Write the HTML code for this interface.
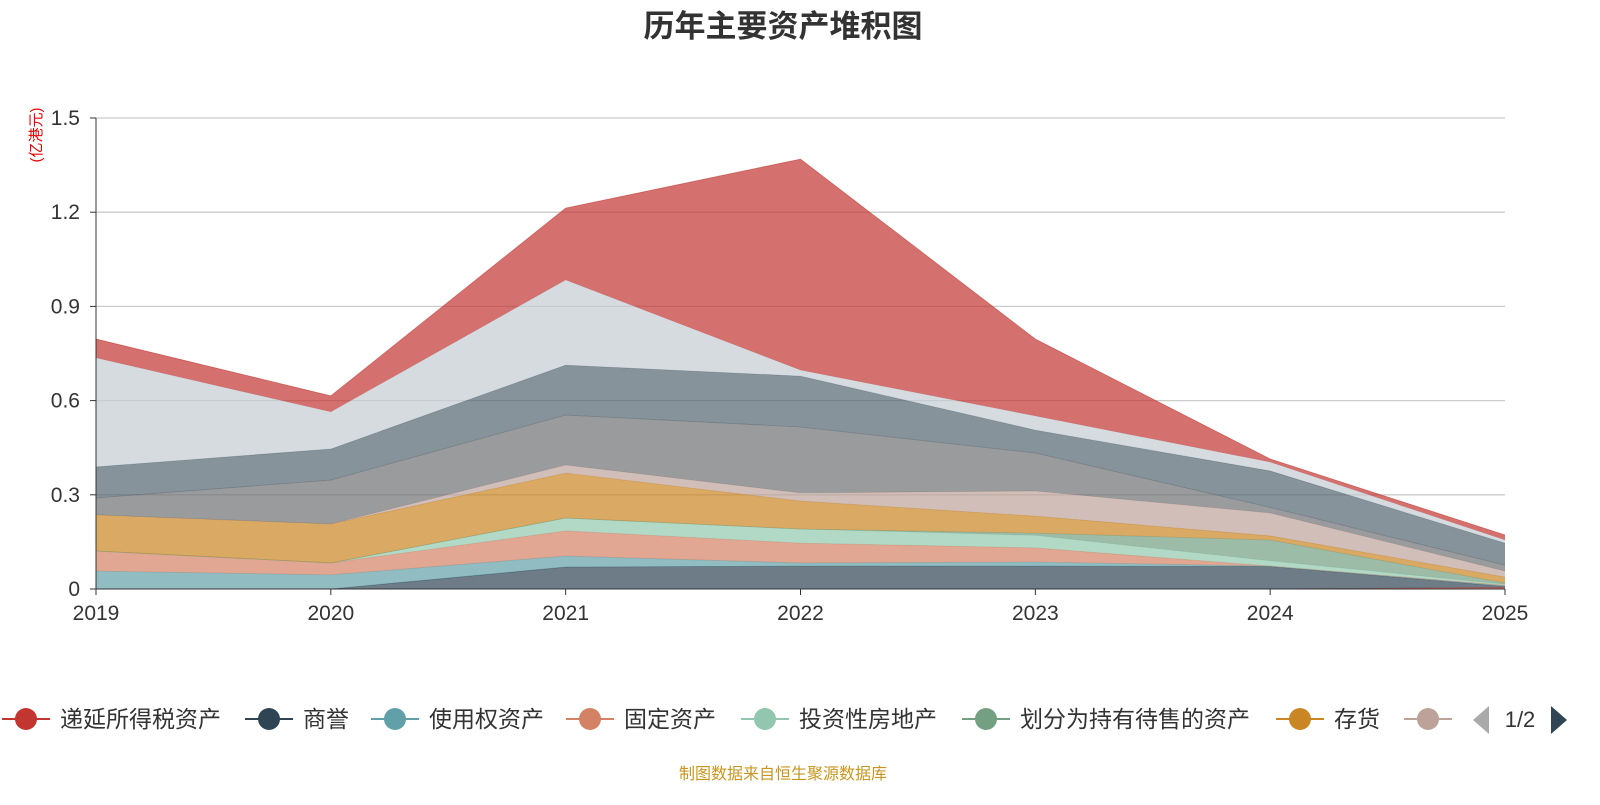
<!DOCTYPE html>
<html><head><meta charset="utf-8"><style>
body{margin:0;background:#fff;font-family:"Liberation Sans","Noto Sans CJK SC",sans-serif;}
svg text{font-family:"Liberation Sans","Noto Sans CJK SC",sans-serif;}
</style></head><body>
<svg id="c" width="1600" height="800">
<text x="783" y="37" text-anchor="middle" font-size="31" font-weight="bold" fill="#333">历年主要资产堆积图</text>
<text transform="translate(41,135) rotate(-90)" text-anchor="middle" font-size="15" fill="#e00">(亿港元)</text>
<g id="grid"></g><g id="areas"></g><g id="axes"></g><g id="legend"></g>
<text x="783" y="779" text-anchor="middle" font-size="16" fill="#c8961e">制图数据来自恒生聚源数据库</text>
</svg>
<script>
const years=["2019","2020","2021","2022","2023","2024","2025"];
const yTicks=[0,0.3,0.6,0.9,1.2,1.5];
const yTickLabels=["0","0.3","0.6","0.9","1.2","1.5"];
const names=["递延所得税资产","商誉","使用权资产","固定资产","投资性房地产","划分为持有待售的资产","存货","s8","s9","s10","s11","s12"];
const colors=["#c23531","#2f4554","#61a0a8","#d48265","#91c7ae","#749f83","#ca8622","#bda29a","#6e7074","#546570","#c4ccd3","#c23531"];
const s1=[0,0,0,0,0,0,0.005];
const s2=[0,0,0.07,0.073,0.073,0.072,0.003];
const s3=[0.057,0.045,0.035,0.010,0.013,0.001,0.002];
const s4=[0.064,0.038,0.08,0.063,0.045,0,0.002];
const s5=[0,0,0.041,0.045,0.04,0.017,0.003];
const s6=[0,0,0,0,0.007,0.066,0.004];
const s7=[0.115,0.124,0.143,0.089,0.054,0.013,0.019];
const s8=[0,0,0.026,0.026,0.08,0.073,0.019];
const s9=[0.054,0.14,0.159,0.21,0.121,0.018,0.019];
const s10=[0.099,0.099,0.159,0.162,0.073,0.116,0.07];
const s11=[0.347,0.118,0.271,0.019,0.045,0.028,0.01];
const s12=[0.06,0.051,0.229,0.672,0.245,0.01,0.016];
const series=[s1,s2,s3,s4,s5,s6,s7,s8,s9,s10,s11,s12];
const NS="http://www.w3.org/2000/svg";
const x=i=>96+i*(1505-96)/(years.length-1);
const y=v=>589-v*(589-118)/1.5;
function mk(t,a,p){const e=document.createElementNS(NS,t);for(const k in a)e.setAttribute(k,a[k]);p.appendChild(e);return e;}
const G=document.getElementById('grid'),A=document.getElementById('areas'),X=document.getElementById('axes'),L=document.getElementById('legend');
yTicks.forEach((t,i)=>{
 if(i>0){const l=mk('line',{x1:96,x2:1505,y1:y(t),y2:y(t),stroke:'#ccc','stroke-width':1.3},G);
 
 }
 const tx=mk('text',{x:80,y:y(t)+7,'text-anchor':'end','font-size':21,fill:'#333'},X);tx.textContent=yTickLabels[i];
 
 
 mk('line',{x1:90,x2:96,y1:y(t),y2:y(t),stroke:'#333'},X);
});
let base=years.map(()=>0);
series.forEach((s,k)=>{
 const top=base.map((b,i)=>b+s[i]);
 let d='M'+years.map((_,i)=>x(i)+','+y(top[i])).join('L');
 for(let i=years.length-1;i>=0;i--)d+='L'+x(i)+','+y(base[i]);
 const p=mk('path',{d:d+'Z',fill:colors[k],'fill-opacity':0.7,stroke:'none'},A);
 
 
 mk('polyline',{points:years.map((_,i)=>x(i)+','+y(top[i])).join(' '),fill:'none',stroke:colors[k],'stroke-width':0.8,'stroke-opacity':0.6},A);
 base=top;
});
mk('line',{x1:96,x2:96,y1:118,y2:589,stroke:'#333'},X);
mk('line',{x1:96,x2:1505,y1:589,y2:589,stroke:'#333'},X);
years.forEach((yr,i)=>{
 mk('line',{x1:x(i),x2:x(i),y1:589,y2:595,stroke:'#333'},X);
 const t=mk('text',{x:x(i),y:620,'text-anchor':'middle','font-size':21,fill:'#333'},X);t.textContent=yr;
 
 
});
const lx=[26,269,395,590,765,986,1300,1428];
lx.forEach((cx,k)=>{
 const g=mk('g',{},L);
 
 
 mk('line',{x1:cx-24,x2:cx+24,y1:719,y2:719,stroke:colors[k],'stroke-width':2},g);
 mk('circle',{cx:cx,cy:719,r:11,fill:colors[k]},g);
 if(k<7){const t=mk('text',{x:cx+34,y:727,'font-size':23,fill:'#333'},g);t.textContent=names[k];}
});
const pl=mk('polygon',{points:'1489,706 1489,734 1473,720',fill:'#aaa'},L);


const pt=mk('text',{x:1520,y:727,'text-anchor':'middle','font-size':22,fill:'#333'},L);pt.textContent='1/2';


const pr=mk('polygon',{points:'1551,706 1551,734 1567,720',fill:'#2f4554'},L);


</script>
</body></html>
